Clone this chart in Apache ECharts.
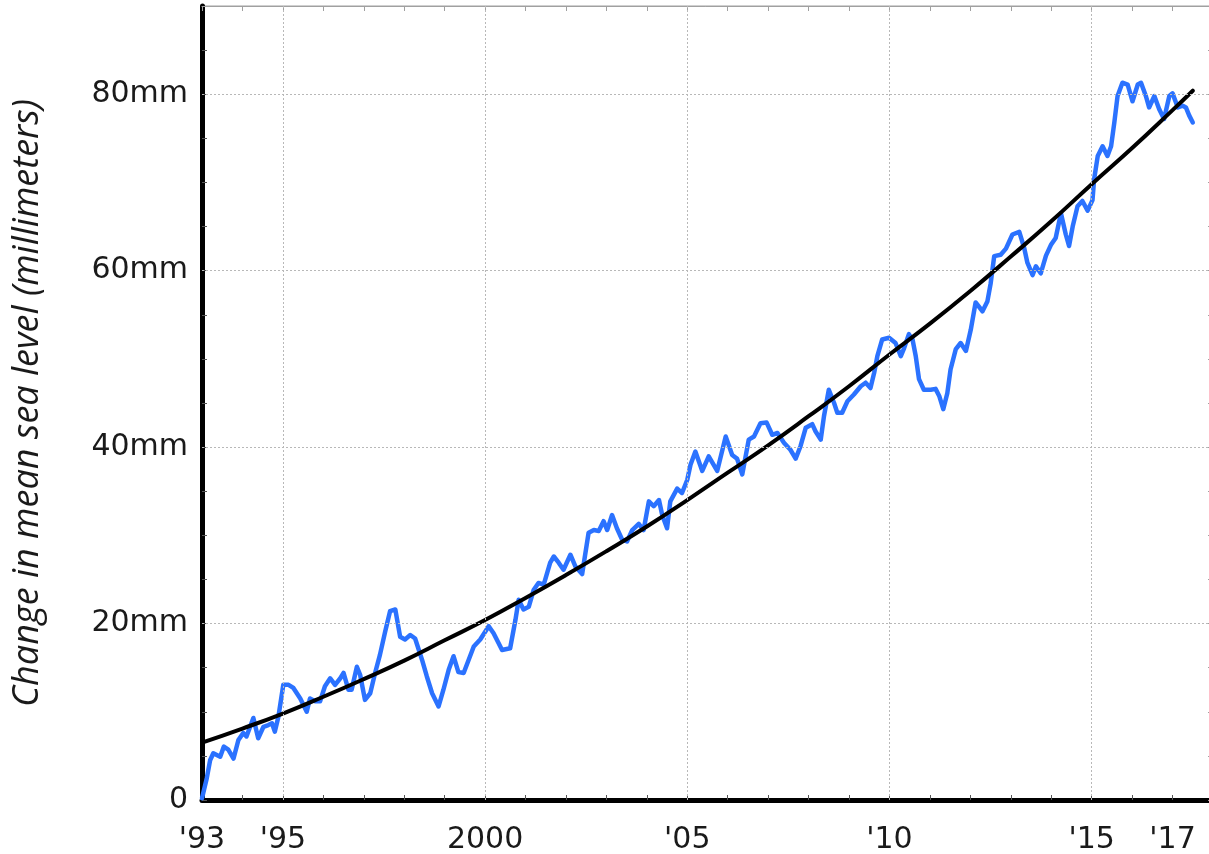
<!DOCTYPE html>
<html>
<head>
<meta charset="utf-8">
<script src="https://cdn.jsdelivr.net/npm/echarts@6/dist/echarts.min.js"></script>
<style>
html,body{margin:0;padding:0;background:#fff;}
#chart{width:1209px;height:854px;}
</style>
</head>
<body>
<div id="chart"></div>
<script>
// Observed sea level (blue): decimal year and change in mm
const obsYears = [1993.0,1993.12,1993.2,1993.28,1993.45,1993.54,1993.65,1993.78,1993.9,1994.02,1994.1,1994.27,1994.39,1994.52,1994.64,1994.73,1994.8,1994.89,1995.01,1995.14,1995.26,1995.43,1995.59,1995.67,1995.8,1995.92,1996.04,1996.17,1996.29,1996.42,1996.5,1996.62,1996.7,1996.83,1996.91,1997.03,1997.16,1997.28,1997.4,1997.53,1997.65,1997.78,1997.9,1998.02,1998.15,1998.27,1998.44,1998.56,1998.69,1998.85,1998.97,1999.1,1999.22,1999.34,1999.47,1999.72,1999.88,2000.09,2000.21,2000.42,2000.62,2000.75,2000.83,2000.95,2001.08,2001.2,2001.32,2001.45,2001.61,2001.7,2001.82,2001.94,2002.11,2002.23,2002.4,2002.56,2002.69,2002.81,2002.93,2003.02,2003.14,2003.26,2003.39,2003.51,2003.64,2003.8,2003.92,2004.05,2004.17,2004.3,2004.38,2004.5,2004.58,2004.75,2004.87,2005.0,2005.08,2005.2,2005.37,2005.53,2005.74,2005.95,2006.11,2006.23,2006.36,2006.52,2006.65,2006.81,2006.96,2007.1,2007.23,2007.39,2007.55,2007.68,2007.8,2007.93,2008.09,2008.17,2008.3,2008.38,2008.5,2008.63,2008.71,2008.83,2008.96,2009.12,2009.29,2009.41,2009.53,2009.62,2009.7,2009.82,2009.99,2010.15,2010.28,2010.36,2010.48,2010.57,2010.65,2010.73,2010.85,2011.02,2011.14,2011.23,2011.33,2011.43,2011.51,2011.64,2011.76,2011.89,2012.01,2012.13,2012.3,2012.42,2012.5,2012.59,2012.75,2012.88,2013.04,2013.21,2013.33,2013.41,2013.54,2013.62,2013.74,2013.87,2013.99,2014.11,2014.24,2014.36,2014.44,2014.53,2014.65,2014.77,2014.9,2015.02,2015.06,2015.15,2015.27,2015.39,2015.48,2015.56,2015.64,2015.76,2015.89,2016.01,2016.14,2016.22,2016.34,2016.42,2016.55,2016.67,2016.79,2016.92,2017.0,2017.13,2017.25,2017.33,2017.41,2017.5];
const obsValues = [0.2,2.5,4.5,5.3,4.9,6.05,5.7,4.7,6.8,7.6,7.2,9.3,7.0,8.3,8.5,8.7,7.75,9.45,13.05,13.05,12.7,11.5,10.0,11.5,11.2,11.2,12.9,13.8,13.05,13.8,14.4,12.5,12.5,15.1,14.2,11.35,12.1,14.4,16.45,19.1,21.4,21.6,18.5,18.2,18.7,18.3,15.9,14.0,12.1,10.6,12.5,14.75,16.3,14.5,14.4,17.4,18.2,19.7,18.9,17.0,17.2,20.4,22.7,21.6,21.9,23.8,24.6,24.4,26.9,27.6,26.9,26.1,27.8,26.5,25.6,30.3,30.6,30.5,31.6,30.6,32.3,30.8,29.5,29.3,30.6,31.3,30.6,33.85,33.3,34.0,32.3,30.8,33.85,35.3,34.8,36.3,38.0,39.5,37.3,38.96,37.3,41.2,39.1,38.7,36.9,40.85,41.2,42.7,42.8,41.4,41.6,40.5,39.7,38.7,40.1,42.2,42.6,41.8,40.85,43.5,46.5,45.0,43.9,43.9,45.2,45.96,46.9,47.3,46.7,48.4,50.3,52.2,52.4,51.8,50.3,51.2,52.8,52.2,50.3,47.7,46.5,46.5,46.6,45.8,44.3,46.1,48.8,51.1,51.8,50.9,53.3,56.4,55.4,56.5,58.5,61.65,61.8,62.5,64.1,64.4,62.6,60.9,59.5,60.5,59.7,61.7,62.9,63.7,66.5,64.1,62.8,65.0,67.3,67.9,66.8,68.0,70.35,73.0,74.1,73.0,74.1,76.8,79.8,81.3,81.1,79.2,81.1,81.3,79.8,78.5,79.8,78.3,77.2,79.8,80.1,78.5,78.7,78.5,77.6,76.8];

// Fitted trend curve (black), read at each year
const fitYears = [1993,1994,1995,1996,1997,1998,1999,2000,2001,2002,2003,2004,2005,2006,2007,2008,2009,2010,2011,2012,2013,2014,2015,2016,2017,2017.5];
const fitValues = [6.5,8.1,9.8,11.7,13.7,15.8,18.1,20.4,22.9,25.5,28.2,31.0,34.0,37.1,40.2,43.5,46.9,50.5,54.0,57.7,61.6,65.6,69.8,73.9,78.2,80.4];

// Axis ticks and labels
const xLabels = {1993:"'93",1995:"'95",2000:"2000",2005:"'05",2010:"'10",2015:"'15",2017:"'17"};
const yLabels = {0:"0",20:"20mm",40:"40mm",60:"60mm",80:"80mm"};
const xGridYears = [1995,2000,2005,2010,2015];
const yGridValues = [20,40,60,80];
const yTitle = "Change in mean sea level (millimeters)";

const obsData = obsYears.map((y,i)=>[y,obsValues[i]]);
const fitData = fitYears.map((y,i)=>[y,fitValues[i]]);

const chart = echarts.init(document.getElementById('chart'), null, {renderer:'canvas'});
const labelFont = {fontFamily:'DejaVu Sans', fontSize:30, color:'#1a1a1a'};
const gridLineStyle = {color:'#b8b8b8', width:1, type:[2,2]};

chart.setOption({
  animation:false,
  backgroundColor:'#ffffff',
  grid:{left:202, top:6, right:-4, bottom:54, show:true, borderColor:'#a0a0a0', borderWidth:1,
        containLabel:false, outerBoundsMode:'none'},
  xAxis:[
    {type:'value', min:1993, max:2018, interval:1, position:'bottom',
     axisLine:{show:true, onZero:false, lineStyle:{color:'#000', width:5}},
     axisTick:{show:true, inside:true, length:5, lineStyle:{color:'#555', width:1}},
     axisLabel:Object.assign({margin:25, formatter:v=>xLabels[v]||'' , showMaxLabel:false}, labelFont),
     splitLine:{show:false}},
    {type:'value', min:1993, max:2018, interval:1, position:'top',
     axisLine:{show:true, onZero:false, lineStyle:{color:'#a0a0a0', width:1}},
     axisTick:{show:true, inside:true, length:5, lineStyle:{color:'#a0a0a0', width:1}},
     axisLabel:{show:false}, splitLine:{show:false}}
  ],
  yAxis:[
    {type:'value', min:0, max:90, interval:5, position:'left',
     name:yTitle, nameLocation:'middle', nameGap:156,
     nameTextStyle:{fontFamily:'Open Sans', fontStyle:'italic', fontSize:36, color:'#1a1a1a'},
     axisLine:{show:true, onZero:false, lineStyle:{color:'#000', width:5}},
     axisTick:{show:true, inside:true, length:5, lineStyle:{color:'#555', width:1}},
     axisLabel:Object.assign({margin:14, formatter:v=>yLabels[v]||'', showMaxLabel:false}, labelFont),
     splitLine:{show:false}},
    {type:'value', min:0, max:90, interval:5, position:'right',
     axisLine:{show:true, onZero:false, lineStyle:{color:'#a0a0a0', width:1}},
     axisTick:{show:true, inside:true, length:5, lineStyle:{color:'#a0a0a0', width:1}},
     axisLabel:{show:false}, splitLine:{show:false}}
  ],
  series:[
    {type:'line', name:'grid', data:[], silent:true, z:1,
     markLine:{silent:true, symbol:'none', label:{show:false}, lineStyle:gridLineStyle, animation:false,
       data: xGridYears.map(v=>({xAxis:v})).concat(yGridValues.map(v=>({yAxis:v})))}},
    {type:'line', name:'observed', data:obsData, showSymbol:false, symbol:'none', z:3,
     lineStyle:{color:'#2b72ff', width:4.5, join:'round', cap:'round'}},
    {type:'line', name:'fit', data:fitData, showSymbol:false, symbol:'none', smooth:true, z:4,
     lineStyle:{color:'#000', width:4, cap:'round'}}
  ]
});
</script>
</body>
</html>
